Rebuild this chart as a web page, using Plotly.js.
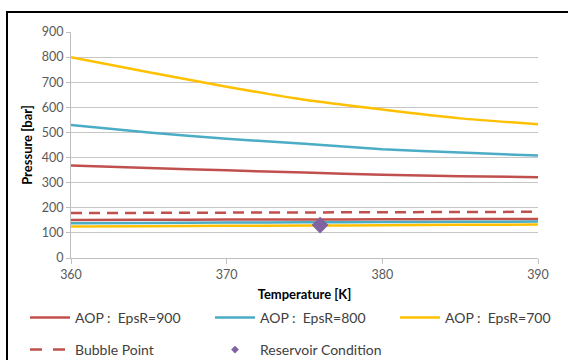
<!DOCTYPE html>
<html><head><meta charset="utf-8">
<script src="https://cdn.plot.ly/plotly-3.0.1.min.js"></script>
<style>html,body{margin:0;padding:0;background:#fff}#chart{width:568px;height:360px}</style>
</head><body><div id="chart"></div>
<script>
const temps = [360, 365, 370, 375, 380, 385, 390];
const aop900Upper = [368, 358, 349, 340, 332, 326, 322];
const aop900Lower = [151, 152, 153, 153, 154, 155, 155];
const aop800Upper = [530, 500, 475, 455, 433, 420, 408];
const aop800Lower = [138, 139, 141, 142, 143, 144, 145];
const aop700Upper = [800, 740, 682, 630, 591, 556, 533];
const aop700Lower = [125, 126, 128, 129, 130, 132, 133];
const bubbleT = [360, 390];
const bubbleP = [179, 184];
const resT = [376];
const resP = [131];
const names = ['AOP\u00a0:\u00a0\u00a0EpsR=900', 'AOP\u00a0:\u00a0\u00a0EpsR=800', 'AOP\u00a0:\u00a0\u00a0EpsR=700', 'Bubble Point', 'Reservoir Condition'];
const colors = ['#C0504D', '#4BACC6', '#FFC000', '#C0504D', '#8064A2'];
const legendIds = ['legend', 'legend2', 'legend3', 'legend4', 'legend5'];

function line(y, i, show) {
  return {x: temps, y: y, type: 'scatter', mode: 'lines', name: names[i],
    legend: legendIds[i], legendgroup: 'g' + i, showlegend: show,
    line: {color: colors[i], width: 2.5, shape: 'spline', smoothing: 0.6}};
}
const traces = [
  line(aop900Lower, 0, false),
  line(aop800Lower, 1, false),
  line(aop700Lower, 2, false),
  {x: bubbleT, y: bubbleP, type: 'scatter', mode: 'lines', name: names[3], showlegend: false,
   line: {color: colors[3], width: 2.5, dash: '11px,7px'}},
  line(aop900Upper, 0, true),
  line(aop800Upper, 1, true),
  line(aop700Upper, 2, true),
  {x: resT, y: resP, type: 'scatter', mode: 'markers', name: names[4], showlegend: false,
   marker: {symbol: 'diamond', size: 13, color: colors[4]}},
  // legend-only samples
  {x: [null], y: [null], type: 'scatter', mode: 'lines', name: names[3], legend: 'legend4',
   line: {color: colors[3], width: 2.5, dash: '12px,11px'}},
  {x: [null], y: [null], type: 'scatter', mode: 'markers', name: names[4], legend: 'legend5',
   marker: {symbol: 'diamond', size: 6, color: colors[4]}}
];

const L = 71, R = 538, T = 32, B = 258, W = 568, H = 360;
const px = v => (v - L) / (R - L);
const py = v => (B - v) / (B - T);
const font = 'Lato, "Open Sans", sans-serif';

function leg(x, y) {
  return {orientation: 'h', x: px(x), y: py(y), xanchor: 'left', yanchor: 'middle',
    font: {size: 14, color: '#404040', family: font}, itemwidth: 40,
    bgcolor: 'rgba(0,0,0,0)', borderwidth: 0};
}

const layout = {
  width: W, height: H,
  margin: {l: L, r: W - R, t: T, b: H - B, autoexpand: false},
  paper_bgcolor: '#fff', plot_bgcolor: '#fff',
  font: {family: font, size: 12, color: '#404040'},
  xaxis: {range: [360, 390], tickvals: [360, 370, 380, 390], showgrid: false,
    zeroline: false, showline: true, linecolor: '#BFBFBF', linewidth: 1,
    ticks: 'outside', ticklen: 5, tickcolor: '#BFBFBF',
    tickfont: {size: 12.5, color: '#595959'},
    title: {text: '<b>Temperature [K]</b>', font: {size: 13, color: '#000'}, standoff: 8}},
  yaxis: {range: [0, 900], dtick: 100, showgrid: true, gridcolor: '#C6C6C6', gridwidth: 1,
    zeroline: false, showline: true, linecolor: '#BFBFBF', linewidth: 1,
    ticks: 'outside', ticklen: 4, tickcolor: '#BFBFBF',
    tickfont: {size: 12.5, color: '#595959'},
    title: {text: '<b>Pressure [bar]</b>', font: {size: 13, color: '#000'}, standoff: 6}},
  legend: leg(25, 318),
  legend2: leg(210, 318),
  legend3: leg(395, 318),
  legend4: leg(25, 350),
  legend5: leg(210, 350),
  shapes: [{type: 'rect', xref: 'paper', yref: 'paper',
    x0: px(7), x1: px(580), y0: py(380), y1: py(12),
    line: {color: '#000', width: 2}, fillcolor: 'rgba(0,0,0,0)', layer: 'below'}]
};
Plotly.newPlot('chart', traces, layout, {displayModeBar: false, staticPlot: true});
</script></body></html>
